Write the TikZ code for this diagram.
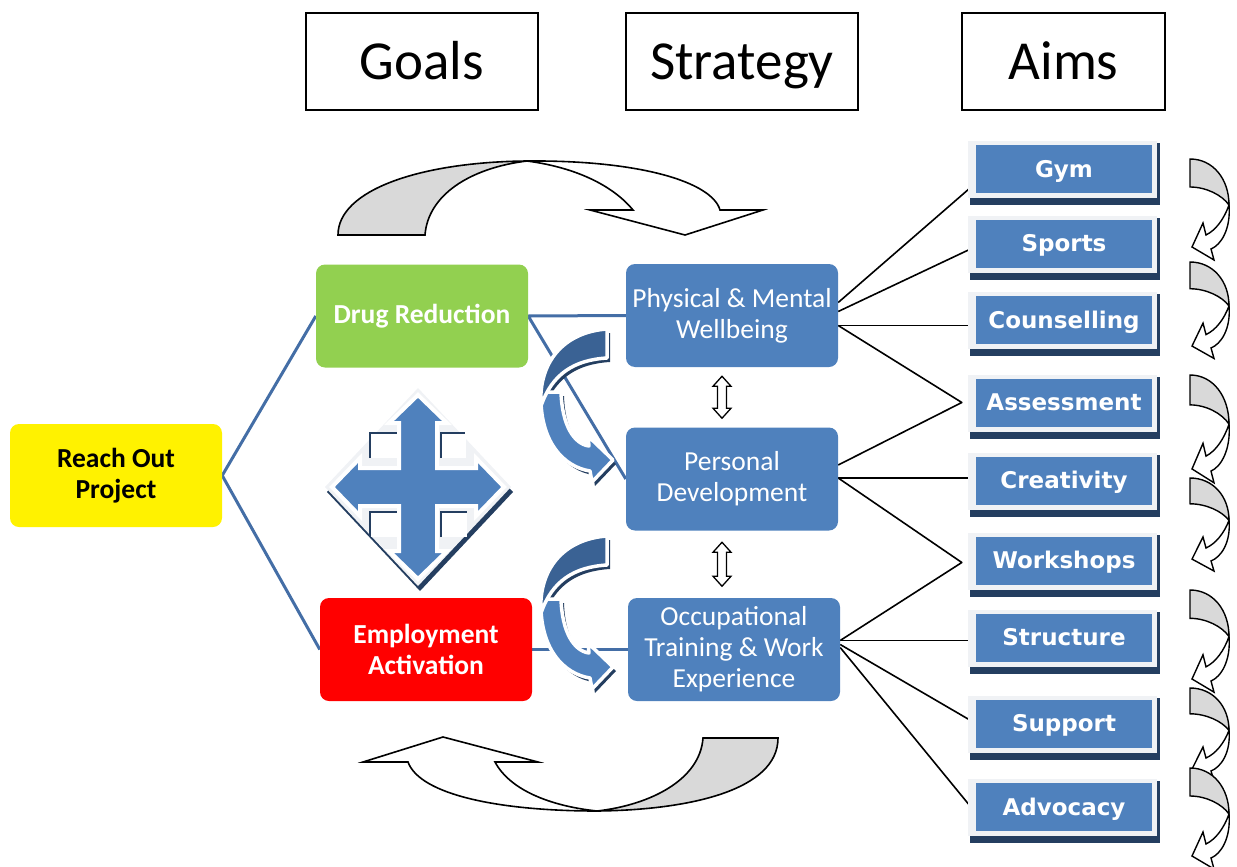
\documentclass[tikz,border=0pt]{standalone}
\usepackage{fontspec}
\setmainfont{Carlito}
\newfontfamily\aimfont{DejaVu Sans}
\usetikzlibrary{calc,backgrounds}

\definecolor{stratblue}{RGB}{79,129,189}
\definecolor{linkblue}{RGB}{68,110,166}
\definecolor{navy}{RGB}{36,62,96}
\definecolor{goalgreen}{RGB}{146,208,80}
\definecolor{arrowgrey}{RGB}{217,217,217}
\definecolor{framegrey}{RGB}{240,242,245}
\definecolor{backblue}{RGB}{58,98,148}

\tikzset{
  header/.style={draw=black, line width=1.5pt, fill=white, minimum height=97pt,
    inner sep=0pt, text height=35pt, text depth=0pt, font=\fontsize{55}{60}\selectfont},
  goalbox/.style={rounded corners=9pt, minimum width=212pt, minimum height=103pt,
    inner sep=0pt, align=center, text=white, font=\bfseries\fontsize{27.5}{31}\selectfont},
  stratbox/.style={rounded corners=9pt, fill=stratblue, minimum width=212pt,
    minimum height=103pt, inner sep=0pt, align=center, text=white,
    font=\fontsize{27.5}{31}\selectfont},
  aimbox/.style={fill=stratblue, minimum width=176pt, minimum height=48pt, inner sep=0pt,
    text height=16.5pt, text depth=0pt, text=white,
    font=\aimfont\bfseries\fontsize{23}{26}\selectfont},
  bluelink/.style={draw=linkblue, line width=3pt, line join=round},
  blacklink/.style={draw=black, line width=1.6pt, line join=round},
  greyarrow/.style={draw=black, line width=1.6pt, line join=miter},
  smallarrow/.style={draw=black, line width=1.4pt, line join=miter},
  swoopedge/.style={draw=white, line width=3.5pt, line join=round},
}

% curved arrow between the goal and strategy columns, in two parts
\newcommand\swoopfront[1]{\path[#1] (541,392) .. controls (539,442) and (564,467) .. (590,471)
  -- (592,482) -- (613,460) -- (588,436) -- (589,446)
  .. controls (574,444) and (562,425) .. (561,392) -- cycle;}
\newcommand\swoopback[1]{\path[#1] (607,329) .. controls (564,332) and (538,362) .. (541,406)
  .. controls (552,374) and (574,360) .. (607,358) -- cycle;}

\begin{document}
\begin{tikzpicture}[x=1pt,y=-1pt]
\useasboundingbox (0,0) rectangle (1237,867);

% column headings
\node[header, minimum width=232pt] (hgoals) at (422,61.5) {Goals};
\node[header, minimum width=232pt] (hstrat) at (742,61.5) {Strategy};
\node[header, minimum width=203pt] (haims) at (1063.5,61.5) {Aims};

% loop arrow over the top
\path[greyarrow, fill=arrowgrey] (338,235) .. controls (338,190) and (420,162) .. (527,161)
  .. controls (470,168) and (428,195) .. (425,235) -- cycle;
\path[greyarrow, fill=white] (527,161) .. controls (640,160) and (712,182) .. (720,210)
  -- (763,210) -- (685,235) -- (590,210) -- (633,210)
  .. controls (615,188) and (580,168) .. (527,161) -- cycle;

% loop arrow underneath
\path[greyarrow, fill=arrowgrey] (778,738) .. controls (778,790) and (690,810) .. (597,811)
  .. controls (650,805) and (700,780) .. (703,738) -- cycle;
\path[greyarrow, fill=white] (597,811) .. controls (500,811) and (420,795) .. (408,762)
  -- (363,762) -- (443,737) -- (538,762) -- (495,762)
  .. controls (510,790) and (550,806) .. (597,811) -- cycle;

% goals and strategies
\node[goalbox, fill=yellow, text=black] (reach) at (116,475.5) {Reach Out\\Project};
\node[goalbox, fill=goalgreen] (drug) at (422,316) {Drug Reduction};
\node[goalbox, fill=red] (emp) at (426,649.5) {Employment\\Activation};
\node[stratbox] (phys) at (732,315.5) {Physical \& Mental\\Wellbeing};
\node[stratbox] (pers) at (732,479) {Personal\\Development};
\node[stratbox] (occ) at (734,649.5) {Occupational\\Training \& Work\\Experience};

% aims, each on a light frame with a dark drop shadow
\foreach \nm/\cy/\txt in {gym/169/Gym, sports/243.5/Sports, couns/320/Counselling,
    assess/402.5/Assessment, creat/480.5/Creativity, works/560.5/Workshops,
    struct/637.5/Structure, support/723.5/Support, advoc/807/Advocacy}{
  \fill[navy] (970,\cy-26) rectangle (1160,\cy+36);
  \fill[framegrey] (968,\cy-28) rectangle (1157,\cy+29);
  \node[aimbox] (\nm) at (1064,\cy) {\txt};
}

% links
\begin{pgfonlayer}{background}
  \draw[bluelink] (drug.west) -- (reach.east) -- (emp.west);
  \draw[bluelink] (phys.west) -- (drug.east) -- (pers.west);
  \draw[bluelink] (emp.east) -- (occ.west);

  \draw[blacklink] ($(phys.east)+(0,-13)$) -- ($(gym.west)+(0,14)$);
  \draw[blacklink] ($(phys.east)+(0,-4)$) -- ($(sports.west)+(0,3)$);
  \draw[blacklink] ($(phys.east)+(0,10)$) coordinate (pc) -- (pc -| couns.west);
  \draw[blacklink] (pc) -- ($(assess.west)+(-14,0)$) -- ($(pers.east)+(0,-14)$);
  \draw[blacklink] ($(pers.east)+(0,-1)$) coordinate (dc) -- (dc -| creat.west);
  \draw[blacklink] (dc) -- ($(works.west)+(-14,2)$) -- ($(occ.east)+(0,-9)$);
  \draw[blacklink] ($(occ.east)+(0,-9)$) coordinate (oc) -- (oc -| struct.west);
  \draw[blacklink] ($(occ.east)+(0,-5)$) -- (support.west);
  \draw[blacklink] ($(occ.east)+(0,-2)$) -- ($(advoc.west)+(0,6)$);
\end{pgfonlayer}

% two-way arrows between the strategies
\coordinate (m1) at ($(phys.south)!.5!(pers.north)+(-10,0)$);
\coordinate (m2) at ($(pers.south)!.5!(occ.north)+(-11,0)$);
\foreach \mid/\h in {m1/21, m2/22}{
  \path[draw=black, line width=1.3pt, fill=white, shift={(\mid)}]
    (0,-\h) -- (9,-\h+10) -- (4.5,-\h+10) -- (4.5,\h-10) -- (9,\h-10) -- (0,\h)
    -- (-9,\h-10) -- (-4.5,\h-10) -- (-4.5,-\h+10) -- (-9,-\h+10) -- cycle;
}

% curved blue arrows from goals to strategies
\foreach \dy in {0,207}{
  \begin{scope}[shift={(0,\dy)}]
    \swoopfront{fill=navy, shift={(3,4)}}
    \swoopback{fill=navy, shift={(3,4)}}
    \swoopfront{swoopedge, fill=stratblue}
    \swoopback{swoopedge, fill=backblue}
  \end{scope}
}

% four-way arrow on a diamond
\begin{scope}[shift={(418,487)}]
  \fill[navy, shift={(2,5)}] (0,-99) -- (93,0) -- (0,99) -- (-93,0) -- cycle;
  \fill[framegrey] (0,-99) -- (93,0) -- (0,99) -- (-93,0) -- cycle;
  \fill[white] (-48,-54) rectangle (-21,-29);
  \fill[white] (22,-54) rectangle (48,-29);
  \fill[white] (-48,25) rectangle (-21,50);
  \fill[white] (22,25) rectangle (49,50);
  \draw[navy, line width=2.5pt] (-48,-29) -- (-48,-54) -- (-21,-54);
  \draw[navy, line width=2.5pt] (23,-29) -- (23,-54) -- (47,-54);
  \draw[navy, line width=2.5pt] (-48,50) -- (-48,25) -- (-21,25);
  \draw[navy, line width=2.5pt] (23,50) -- (23,25) -- (49,25);
  \path[draw=white, line width=4pt, line join=miter, fill=stratblue]
    (0,-92) -- (29,-64) -- (19,-64) -- (19,-19) -- (58,-19) -- (58,-29) -- (86,0)
    -- (58,29) -- (58,19) -- (19,19) -- (19,64) -- (29,64) -- (0,92) -- (-29,64)
    -- (-19,64) -- (-19,19) -- (-58,19) -- (-58,29) -- (-86,0) -- (-58,-29)
    -- (-58,-19) -- (-19,-19) -- (-19,-64) -- (-29,-64) -- cycle;
\end{scope}

% small loop arrows leading down the list of aims
\foreach \ya/\yb in {159/248, 262/347, 375/470, 478/560, 590/680, 688/770, 768/857}{
  \begin{scope}[shift={(1188,\ya)}, yscale={(\yb-\ya)/89}]
    \path[smallarrow, fill=arrowgrey] (2,0) .. controls (25,0) and (41,20) .. (41,46)
      .. controls (34,36) and (18,28) .. (2,28) -- cycle;
    \path[smallarrow, fill=white] (41,46) .. controls (43,70) and (33,86) .. (23,90)
      -- (26,101) -- (4,88) -- (15,64) -- (18,76)
      .. controls (28,71) and (36,60) .. (41,46) -- cycle;
  \end{scope}
}
\end{tikzpicture}
\end{document}
